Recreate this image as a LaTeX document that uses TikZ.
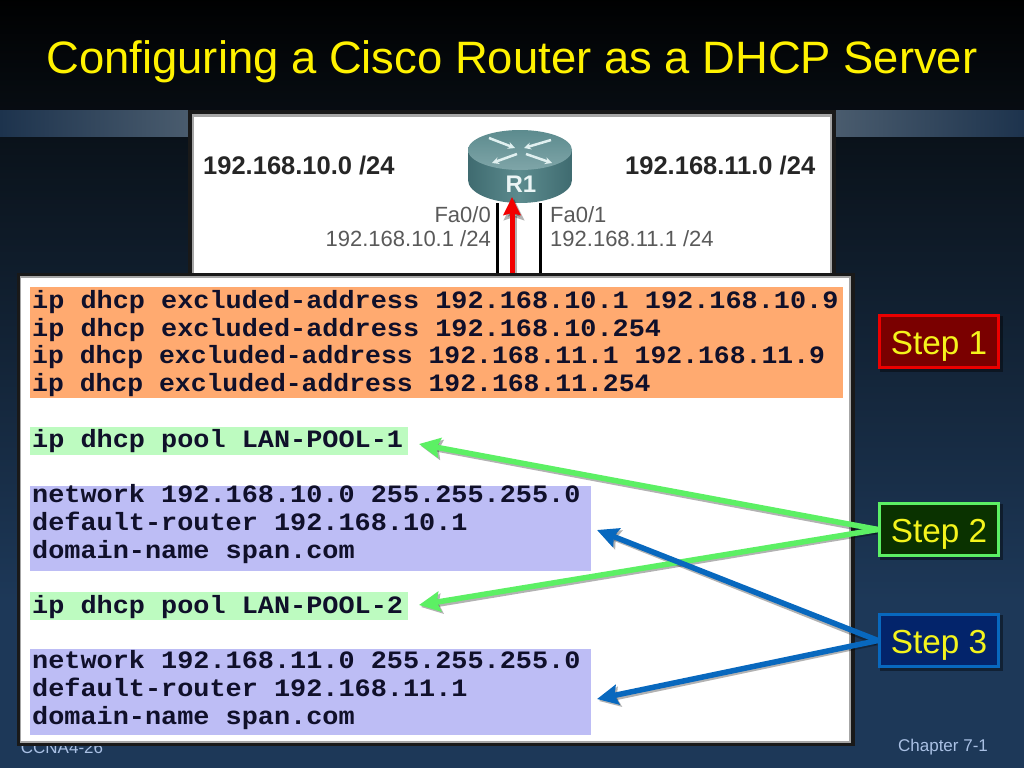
\documentclass[tikz,border=0pt]{standalone}
\usepackage{fontspec}
\setmainfont{Liberation Sans}
\newfontfamily\codefont[FakeStretch=1.075]{Liberation Mono}
\newfontfamily\codefontn[FakeStretch=1.057]{Liberation Mono}
\usetikzlibrary{arrows.meta}
\definecolor{codeink}{HTML}{10102A}
\definecolor{orangeband}{HTML}{FFAA70}
\definecolor{greenband}{HTML}{BDFBC0}
\definecolor{blueband}{HTML}{BDBDF5}
\definecolor{stepyellow}{HTML}{F4F41C}
\definecolor{arrowgreen}{HTML}{5CF064}
\definecolor{arrowblue}{HTML}{0868BE}
\definecolor{navytop}{HTML}{0A121A}
\definecolor{navybot}{HTML}{1D3858}
\definecolor{stripdark}{HTML}{1D334D}
\definecolor{striplight}{HTML}{4A5C6E}
\definecolor{footertext}{HTML}{A9C0E4}
\definecolor{routerlight}{HTML}{7FA5A8}
\definecolor{routermid}{HTML}{5C8B8E}
\definecolor{routerdark}{HTML}{3F6B70}
\definecolor{stepredfill}{HTML}{7A0000}
\definecolor{stepgreenfill}{HTML}{0A3200}
\definecolor{stepbluefill}{HTML}{03246B}
\tikzset{
  codeline/.style={anchor=base west,inner sep=0pt,text=codeink,font=\codefont\bfseries\fontsize{25}{25}\selectfont},
  codelinen/.style={anchor=base west,inner sep=0pt,text=codeink,font=\codefontn\bfseries\fontsize{25}{25}\selectfont},
  band/.style={fill=#1,draw=none},
  stepbox/.style={draw=#1,line width=3pt,minimum width=119pt,minimum height=52pt,inner sep=0pt,
    text height=25pt,text depth=0pt,text=stepyellow,font=\fontsize{33.3}{33.3}\selectfont},
  netlabel/.style={inner sep=0pt,text=black!85,font=\bfseries\fontsize{25.5}{25.5}\selectfont},
  iflabel/.style={inner sep=0pt,text=black!65,font=\fontsize{22}{22}\selectfont},
  footerlabel/.style={inner sep=0pt,anchor=base,text=footertext,font=\fontsize{17}{17}\selectfont},
  stepline/.style={line width=5.5pt,-{Stealth[length=21pt,width=20pt,inset=3pt]}},
  shadowline/.style={line width=5.5pt,draw=black,opacity=.3,-{Stealth[length=21pt,width=20pt,inset=3pt]}},
  routermark/.style={white!88!teal,line width=2.5pt,-{Stealth[length=7pt,width=7pt]}},
}
\begin{document}
\begin{tikzpicture}[x=1pt,y=-1pt]
\useasboundingbox (0,0) rectangle (1024,768);
% background
\shade[top color=navytop,bottom color=navybot] (0,136) rectangle (1024,600);
\fill[navybot] (0,600) rectangle (1024,768);
\shade[top color=black!95!navytop,bottom color=navytop!70!black] (0,0) rectangle (1024,110);
\shade[left color=stripdark,right color=striplight] (0,110) rectangle (190,136);
\shade[left color=striplight,right color=stripdark] (834,110) rectangle (1024,136);
% title and footer
\node[inner sep=0pt,anchor=base,text=yellow,font=\fontsize{45.4}{45.4}\selectfont] (title) at (512,73) {Configuring a Cisco Router as a DHCP Server};
\node[footerlabel] (ccna) at (62,753) {CCNA4-26};
\node[footerlabel] (chapter) at (943,751) {Chapter 7-1};
% topology frame
\fill[black!90] (188,110) rectangle (836,276);
\fill[gray!70] (192,114) rectangle (832,276);
\fill[white] (194,117) rectangle (830,276);
% router
\shade[left color=routerdark,right color=routerdark,middle color=routermid]
  (468,150) -- (468,180) arc[start angle=180,end angle=0,x radius=52,y radius=23] -- (572,150) -- cycle;
\shade[top color=routermid,bottom color=routerlight]
  (520,150) ellipse[x radius=52,y radius=20];
\draw[routermark] (489,138) -- (515,148);
\draw[routermark] (551,140) -- (524,148);
\draw[routermark] (517,154) -- (492,163);
\draw[routermark] (526,154) -- (552,163);
\node[inner sep=0pt,anchor=base,text=white!92!teal,font=\bfseries\fontsize{24}{24}\selectfont] (r1) at (521,192) {R1};
\coordinate (rl) at (497,203);
\coordinate (rr) at (540,203);
\coordinate (rlb) at (497,276);
\coordinate (rrb) at (540,276);
\coordinate (rtip) at (512,197);
\coordinate (rtail) at (512,276);
\coordinate (rtips) at (514,199);
\coordinate (rtails) at (514,276);
\draw[black,line width=3pt] (rl) -- (rlb);
\draw[black,line width=3pt] (rr) -- (rrb);
\draw[shadowline] (rtails) -- (rtips);
\draw[red!95!black,line width=5pt,-{Stealth[length=18pt,width=17pt,inset=2pt]}] (rtail) -- (rtip);
\node[netlabel,anchor=base west] (n10) at (203,174) {192.168.10.0 /24};
\node[netlabel,anchor=base west] (n11) at (625,174) {192.168.11.0 /24};
\node[iflabel,anchor=base east] (fa0) at (491,222) {Fa0/0};
\node[iflabel,anchor=base east] (ip0) at (491,246) {192.168.10.1 /24};
\node[iflabel,anchor=base west] (fa1) at (550,222) {Fa0/1};
\node[iflabel,anchor=base west] (ip1) at (550,246) {192.168.11.1 /24};
% configuration panel
\fill[black!90] (17,273) rectangle (855,746);
\fill[black!35] (20,276) rectangle (851,743);
\fill[white] (21,278) rectangle (849,741);
\fill[band=orangeband] (30,287) rectangle (843,398);
\fill[band=greenband] (30,427) rectangle (408,455);
\fill[band=blueband] (30,486) rectangle (591,571);
\fill[band=greenband] (30,592) rectangle (408,620);
\fill[band=blueband] (30,649) rectangle (591,735);
\node[codeline] (l1) at (32,308) {ip dhcp excluded-address 192.168.10.1 192.168.10.9};
\node[codeline] (l2) at (32,336) {ip dhcp excluded-address 192.168.10.254};
\node[codelinen] (l3) at (32,363) {ip dhcp excluded-address 192.168.11.1 192.168.11.9};
\node[codelinen] (l4) at (32,391) {ip dhcp excluded-address 192.168.11.254};
\node[codeline] (l5) at (32,447) {ip dhcp pool LAN-POOL-1};
\node[codeline] (l6) at (32,502) {network 192.168.10.0 255.255.255.0};
\node[codeline] (l7) at (32,530) {default-router 192.168.10.1};
\node[codeline] (l8) at (32,558) {domain-name span.com};
\node[codeline] (l9) at (32,613) {ip dhcp pool LAN-POOL-2};
\node[codeline] (l10) at (32,668) {network 192.168.11.0 255.255.255.0};
\node[codeline] (l11) at (32,696) {default-router 192.168.11.1};
\node[codeline] (l12) at (32,724) {domain-name span.com};
% steps
\foreach \y in {341.5,529.5,640.5}{\fill[black,opacity=.4] (880,\y-25.5) rectangle (1002.5,\y+30);}
\node[stepbox=red!92!black,fill=stepredfill] (s1) at (939,341.5) {Step 1};
\node[stepbox=arrowgreen,fill=stepgreenfill] (s2) at (939,529.5) {Step 2};
\node[stepbox=arrowblue,fill=stepbluefill] (s3) at (939,640.5) {Step 3};
% connectors
\coordinate (g1) at (419,444);
\coordinate (g2) at (419,605);
\coordinate (b1) at (597,530);
\coordinate (b2) at (597,699);
\coordinate (g1s) at (421,446);
\coordinate (g2s) at (421,607);
\coordinate (b1s) at (599,532);
\coordinate (b2s) at (599,701);
\draw[shadowline] ([shift={(-1,2)}]s2.west) -- (g1s);
\draw[shadowline] ([shift={(-1,2)}]s2.west) -- (g2s);
\draw[shadowline] ([shift={(-1,2)}]s3.west) -- (b1s);
\draw[shadowline] ([shift={(-1,2)}]s3.west) -- (b2s);
\draw[stepline,draw=arrowgreen] (s2.west) -- (g1);
\draw[stepline,draw=arrowgreen] (s2.west) -- (g2);
\draw[stepline,draw=arrowblue] (s3.west) -- (b1);
\draw[stepline,draw=arrowblue] (s3.west) -- (b2);
\end{tikzpicture}
\end{document}
